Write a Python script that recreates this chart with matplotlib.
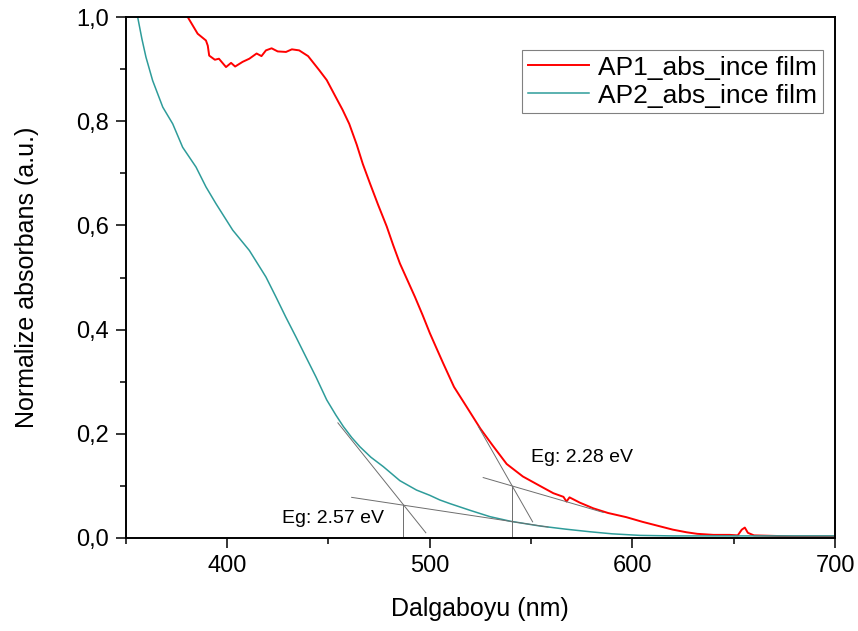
import matplotlib
matplotlib.use("Agg")
import matplotlib.pyplot as plt
from matplotlib.ticker import MultipleLocator, FuncFormatter

plt.rcParams['font.family'] = ['Liberation Sans', 'DejaVu Sans']

# AP1 absorbance
ap1_nm = [380.6, 385.5, 389.6, 390.5, 391.2, 394, 396, 399.5, 402, 404, 407.7, 411, 414.6,
          417, 419.2, 422, 425, 429.1, 432, 435.6, 440, 445.5, 449.2, 453.7, 457, 460.3, 464,
          467, 470.5, 474.5, 478.8, 482, 485.3, 489, 492.7, 496.5, 500.1, 503.5, 506.7, 512,
          518.2, 525, 531, 538, 546, 554.4, 561, 566, 567.5, 569, 574, 580.7, 588, 597, 605,
          612, 620, 626.7, 632, 640, 648, 652, 654, 655.5, 657, 660, 670, 680, 690, 700]
ap1_abs = [1.0, 0.968, 0.955, 0.945, 0.926, 0.918, 0.92, 0.904, 0.912, 0.905, 0.914, 0.92, 0.93,
           0.925, 0.936, 0.94, 0.934, 0.933, 0.938, 0.936, 0.925, 0.898, 0.879, 0.846, 0.822, 0.795,
           0.755, 0.718, 0.681, 0.64, 0.598, 0.562, 0.527, 0.495, 0.463, 0.428, 0.393, 0.363, 0.335,
           0.29, 0.252, 0.21, 0.178, 0.142, 0.118, 0.10, 0.086, 0.079, 0.07, 0.078, 0.068, 0.057,
           0.048, 0.040, 0.031, 0.024, 0.016, 0.011, 0.008, 0.006, 0.006, 0.005, 0.016, 0.02,
           0.01, 0.005, 0.004, 0.003, 0.003, 0.003]

# AP2 absorbance
ap2_nm = [355.9, 358, 360, 363.3, 368.3, 373.2, 378.1, 384.7, 389.6, 394.5, 402.8, 411, 419.2,
          424.1, 429, 434, 439, 443.9, 449.2, 453.7, 457.4, 461.5, 465.6, 471, 477.1, 485.3,
          493.5, 500, 505, 510, 520, 529.7, 540, 554.4, 567, 579, 590, 603.7, 620, 640, 660,
          680, 700]
ap2_abs = [1.0, 0.958, 0.923, 0.878, 0.827, 0.795, 0.750, 0.712, 0.674, 0.642, 0.591, 0.552,
           0.501, 0.463, 0.424, 0.386, 0.347, 0.309, 0.265, 0.236, 0.214, 0.193, 0.175, 0.155,
           0.137, 0.110, 0.092, 0.082, 0.073, 0.066, 0.053, 0.041, 0.032, 0.023, 0.017, 0.012,
           0.008, 0.005, 0.004, 0.004, 0.004, 0.004, 0.004]

# tangent construction lines (x pairs, y pairs) and band-gap markers
ap1_steep = ([524.0, 550.8], [0.214, 0.031])
ap1_flat = ([526.4, 585.7], [0.116, 0.049])
ap1_edge = 540.4
ap1_edge_top = 0.100
ap2_steep = ([454.7, 498.1], [0.221, 0.010])
ap2_flat = ([461.5, 558.4], [0.078, 0.021])
ap2_edge = 487.0
ap2_edge_top = 0.063

fig = plt.figure(figsize=(8.58, 6.31), dpi=100)
ax = fig.add_axes([0.1465, 0.1474, 0.8267, 0.8256])

ax.plot(ap1_nm, ap1_abs, color='#ff0000', lw=1.4, label='AP1_abs_ince film')
ax.plot(ap2_nm, ap2_abs, color='#2e9c9a', lw=1.1, label='AP2_abs_ince film')

gray = '#6e6e6e'
for xs, ys in [ap1_steep, ap1_flat, ap2_steep, ap2_flat]:
    ax.plot(xs, ys, color=gray, lw=0.7)
ax.plot([ap1_edge, ap1_edge], [0, ap1_edge_top], color=gray, lw=0.7)
ax.plot([ap2_edge, ap2_edge], [0, ap2_edge_top], color=gray, lw=0.7)

ax.text(550, 0.155, 'Eg: 2.28 eV', fontsize=14, va='center', ha='left')
ax.text(427, 0.038, 'Eg: 2.57 eV', fontsize=14, va='center', ha='left')

ax.set_xlim(350, 700)
ax.set_ylim(0, 1.0)
ax.xaxis.set_major_locator(MultipleLocator(100))
ax.xaxis.set_minor_locator(MultipleLocator(50))
ax.yaxis.set_major_locator(MultipleLocator(0.2))
ax.yaxis.set_minor_locator(MultipleLocator(0.1))
ax.yaxis.set_major_formatter(FuncFormatter(lambda v, p: f'{v:.1f}'.replace('.', ',')))
ax.tick_params(which='major', direction='out', length=7, width=1.1, labelsize=17, pad=5)
ax.tick_params(which='minor', direction='out', length=4, width=1.1)
for s in ax.spines.values():
    s.set_linewidth(1.4)

ax.set_xlabel('Dalgaboyu (nm)', fontsize=18, labelpad=15)
ax.set_ylabel('Normalize absorbans (a.u.)', fontsize=18, labelpad=27)

leg = ax.legend(loc='upper right', bbox_to_anchor=(0.983, 0.937), fontsize=19,
                fancybox=False, edgecolor='#808080', framealpha=1, handlelength=2.3,
                borderpad=0.22, labelspacing=0.15, handletextpad=0.35, borderaxespad=0)
leg.get_frame().set_linewidth(0.8)

fig.savefig('out.png', dpi=100)
